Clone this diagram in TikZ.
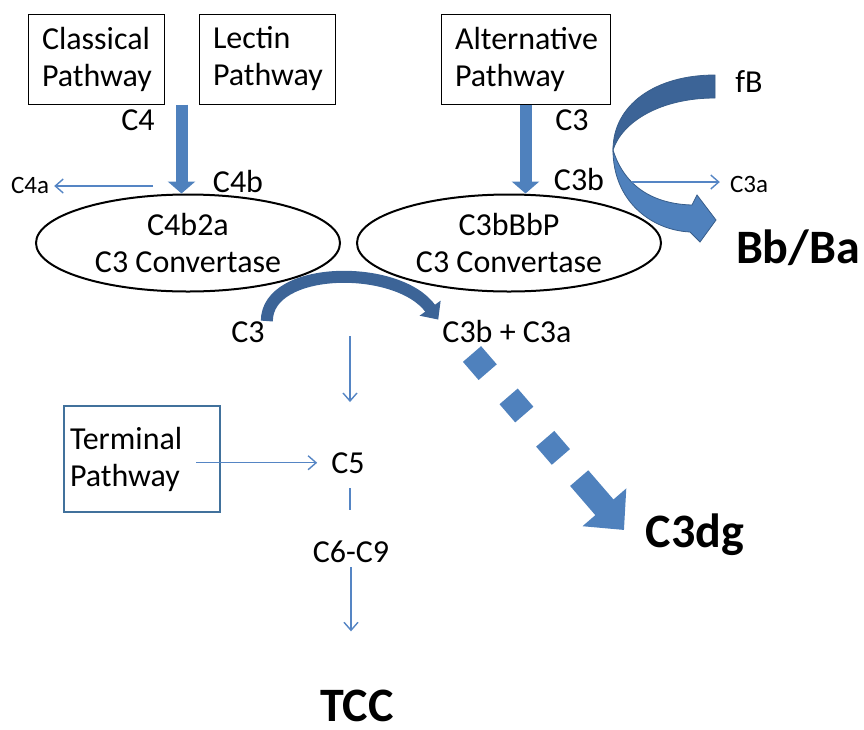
\documentclass[tikz,border=0pt]{standalone}
\usepackage{fontspec}
\setmainfont{Carlito}
\usetikzlibrary{positioning}
\usetikzlibrary{shapes.geometric}
\usetikzlibrary{arrows.meta}
\usetikzlibrary{calc}

\definecolor{pblue}{HTML}{4F81BD}
\definecolor{pdark}{HTML}{3C6497}
\definecolor{pedge}{HTML}{385D8A}
\definecolor{flowblue}{HTML}{5585C4}
\definecolor{termblue}{HTML}{41719C}

\begin{document}
\begin{tikzpicture}[x = 1pt, y = -1pt,
	lab/.style = {font = \fontsize{32}{37}\selectfont, inner sep = 0pt},
	smalllab/.style = {font = \fontsize{25}{30}\selectfont, inner sep = 0pt},
	boldlab/.style = {font = \fontsize{48}{56}\selectfont\bfseries, inner sep = 0pt},
	pathbox/.style = {draw, line width = 1pt, lab, align = left, inner xsep = 14pt, minimum height = 90pt},
	convertase/.style = {ellipse, draw, line width = 2pt, lab, align = center, minimum width = 304pt, minimum height = 97pt},
	flow/.style = {flowblue, line width = 1.4pt, -{Straight Barb[length = 8pt, width = 14pt]}},
	fat/.style = {pblue, line width = 12pt, -{Triangle[width = 27pt, length = 12pt]}},
	hook/.style = {pdark, line width = 12pt, -{Triangle[width = 25pt, length = 14pt]}},
	dashflow/.style = {pblue, line width = 24pt, dash pattern = on 24pt off 32pt on 24pt off 32pt on 24pt off 28pt on 80pt, -{Triangle[width = 56pt, length = 30pt]}}]
	\useasboundingbox (0, 0) rectangle (864, 729);

	% pathways
	\node [pathbox, text width = 108pt] (classical) at (96, 59) {Classical\\Pathway};
	\node [pathbox, text width = 108pt] (lectin) at (267, 59) {Lectin\\Pathway};
	\node [pathbox, text width = 141pt] (alternative) at (525.5, 59) {Alternative\\Pathway};
	\node [draw = termblue, line width = 2pt, lab, align = left, inner xsep = 6pt, text width = 144pt, minimum height = 106pt] (terminal) at (142, 459) {Terminal\\Pathway};

	% convertases
	\node [convertase] (c4conv) at (188, 243) {C4b2a\\C3 Convertase};
	\node [convertase] (c3conv) at (509, 243) {C3bBbP\\C3 Convertase};

	% labels
	\node [lab, anchor = base] (c4) at (138, 130) {C4};
	\node [lab, anchor = base] (c4b) at (238, 192) {C4b};
	\node [smalllab, anchor = base] (c4a) at (30, 193) {C4a};
	\node [lab, anchor = base] (c3top) at (572, 130) {C3};
	\node [lab, anchor = base] (c3b) at (579, 190) {C3b};
	\node [smalllab, anchor = base] (c3a) at (749, 192) {C3a};
	\node [lab, anchor = base] (fb) at (749, 92) {fB};
	\node [boldlab, anchor = base] (bbba) at (798, 263) {Bb/Ba};
	\node [lab, anchor = base] (c3mid) at (248, 342) {C3};
	\node [lab, anchor = base] (split) at (507, 342) {C3b + C3a};
	\node [boldlab, anchor = base] (c3dg) at (695, 547) {C3dg};
	\node [lab, anchor = base] (c5) at (348, 473) {C5};
	\node [lab, anchor = base] (c69) at (351, 562) {C6-C9};
	\node [boldlab, anchor = base] (tcc) at (357, 721) {TCC};

	% fat arrows into the convertases
	\coordinate (cltop) at ($(classical.south east)!0.5!(lectin.south west)$);
	\draw [fat] (cltop) -- (cltop |- c4conv.north);
	\draw [fat] (alternative.south) -- (alternative.south |- c3conv.north);

	% fB hook
	\fill [pdark, draw = pedge, line width = 0.8pt] (715, 75) .. controls (655, 75) and (613, 105) .. (613, 150) .. controls (622, 122) and (660, 98) .. (715, 98) -- cycle;
	\fill [pblue, draw = pedge, line width = 0.8pt] (613, 150) .. controls (613, 200) and (650, 230) .. (690, 232) -- (700, 242) -- (716, 220) -- (697, 195) -- (692, 205) .. controls (655, 204) and (625, 188) .. (613, 150) -- cycle;

	% thin arrows
	\coordinate (c4cut) at (153, 186);
	\draw [flow, shorten >= 5pt] (c4cut) -- (c4cut -| c4a.east);
	\coordinate (c3cut) at (632, 182);
	\draw [flow, shorten >= 10pt] (c3cut) -- (c3cut -| c3a.west);

	% C3 split
	\draw [hook] ([xshift = 2pt]c3mid.north east) .. controls +(0, -56) and +(-40, -56) .. ([xshift = -4pt]split.north west);
	\coordinate (dgstart) at (472, 354);
	\coordinate (dgtip) at (624, 530);
	\draw [dashflow] (dgstart) -- (dgtip);

	% terminal pathway
	\coordinate (c5top) at (350, 336);
	\draw [flow, shorten >= 50pt] (c5top) -- (c5top |- c5.north);
	\coordinate (tpout) at ([xshift = -25pt]terminal.east);
	\draw [flow, shorten >= 14pt] (tpout |- c5.west) -- (c5.west);
	\draw [flowblue, line width = 1.4pt, shorten <= 15pt, shorten >= 30pt] (c5.south -| c5top) -- (c5top |- c69.north);
	\draw [flow, shorten <= 5pt, shorten >= 58pt] (c69.south) -- (c69.south |- tcc.north);
\end{tikzpicture}
\end{document}
